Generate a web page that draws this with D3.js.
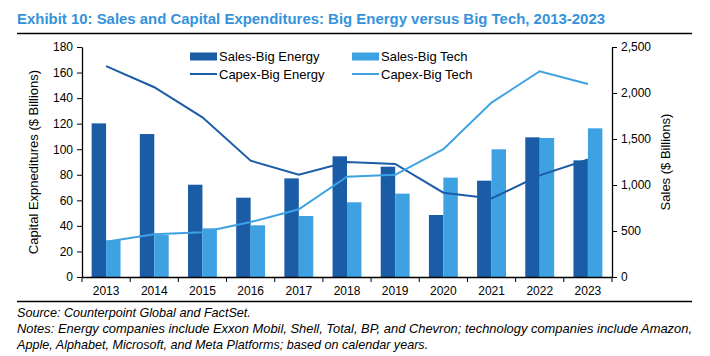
<!DOCTYPE html>
<html>
<head>
<meta charset="utf-8">
<script src="https://cdn.jsdelivr.net/npm/d3@7"></script>
<style>
  html, body { margin: 0; padding: 0; background: #fff; }
  svg { display: block; }
  text { font-family: "Liberation Sans", Arial, sans-serif; }
</style>
</head>
<body>
<script>
// ---- data ----
const years = ["2013","2014","2015","2016","2017","2018","2019","2020","2021","2022","2023"];
const salesEnergy = [1670, 1554, 1003, 862, 1072, 1312, 1199, 674, 1047, 1518, 1268]; // right axis
const salesTech   = [399, 456, 529, 562, 663, 812, 906, 1080, 1388, 1511, 1616];      // right axis
const capexEnergy = [165, 148.5, 125, 91, 80, 90, 88.5, 66, 61.5, 79.5, 92];          // left axis
const capexTech   = [27.5, 33.5, 35, 43, 53, 78.5, 80, 100, 136.5, 161, 151];         // left axis
const leftTicks  = [0, 20, 40, 60, 80, 100, 120, 140, 160, 180];
const rightTicks = [0, 500, 1000, 1500, 2000, 2500];
const seriesNames = ["Sales-Big Energy", "Sales-Big Tech", "Capex-Big Energy", "Capex-Big Tech"];

const W = 710, H = 356;
const dark = "#1b5ca7", light = "#3ea2e2", titleColor = "#3592da";
const plot = { left: 82, right: 612, top: 47, bottom: 277 };

const svg = d3.select("body").append("svg").attr("width", W).attr("height", H);

// title
svg.append("text")
  .attr("x", 17).attr("y", 24)
  .attr("fill", titleColor)
  .style("font-family", "'Liberation Sans Narrow','Arial Narrow','Liberation Sans',sans-serif")
  .style("font-weight", "bold").style("font-size", "15px")
  .attr("textLength", 588).attr("lengthAdjust", "spacingAndGlyphs")
  .text("Exhibit 10: Sales and Capital Expenditures: Big Energy versus Big Tech, 2013-2023");
svg.append("line").attr("x1", 17).attr("x2", 692).attr("y1", 33.5).attr("y2", 33.5)
  .attr("stroke", "#000").attr("stroke-width", 1.3);

// scales
const x = d3.scaleBand().domain(years).range([plot.left, plot.right]).paddingInner(0).paddingOuter(0);
const sub = d3.scaleBand().domain(["e", "t"]).range([0, x.bandwidth() * 0.6]);
const subOff = x.bandwidth() * 0.2;
const yL = d3.scaleLinear().domain([0, 180]).range([plot.bottom, plot.top]);
const yR = d3.scaleLinear().domain([0, 2500]).range([plot.bottom, plot.top]);

// bars
const g = svg.append("g");
g.selectAll("rect.e").data(years).join("rect").attr("class", "e")
  .attr("x", d => x(d) + subOff + sub("e"))
  .attr("width", sub.bandwidth())
  .attr("y", (d, i) => yR(salesEnergy[i]))
  .attr("height", (d, i) => yR(0) - yR(salesEnergy[i]))
  .attr("fill", dark);
g.selectAll("rect.t").data(years).join("rect").attr("class", "t")
  .attr("x", d => x(d) + subOff + sub("t"))
  .attr("width", sub.bandwidth())
  .attr("y", (d, i) => yR(salesTech[i]))
  .attr("height", (d, i) => yR(0) - yR(salesTech[i]))
  .attr("fill", light);

// lines
const cx = d => x(d) + x.bandwidth() / 2;
const lineE = d3.line().x((d, i) => cx(years[i])).y(d => yL(d));
svg.append("path").datum(capexEnergy).attr("d", lineE)
  .attr("fill", "none").attr("stroke", dark).attr("stroke-width", 2);
svg.append("path").datum(capexTech).attr("d", lineE)
  .attr("fill", "none").attr("stroke", light).attr("stroke-width", 2);

// axes
const axL = svg.append("g").attr("transform", `translate(${plot.left},0)`)
  .call(d3.axisLeft(yL).tickValues(leftTicks).tickSize(5).tickSizeOuter(0).tickPadding(4));
const axR = svg.append("g").attr("transform", `translate(${plot.right},0)`)
  .call(d3.axisRight(yR).tickValues(rightTicks).tickFormat(d3.format(",")).tickSize(5).tickSizeOuter(0).tickPadding(4));
const axB = svg.append("g").attr("transform", `translate(0,${plot.bottom})`)
  .call(d3.axisBottom(x).tickSize(0).tickSizeOuter(0).tickPadding(9));
[axL, axR, axB].forEach(a => {
  a.selectAll("text").style("font-size", "12px").style("font-family", "'Liberation Sans',Arial,sans-serif").attr("fill", "#000");
  a.selectAll("line").attr("stroke", "#000");
  a.select(".domain").attr("stroke", "#000").attr("stroke-width", 1.3);
});
// boundary ticks on category axis
const bounds = years.map(d => x(d)).concat([x(years[years.length - 1]) + x.bandwidth()]);
svg.append("g").selectAll("line").data(bounds).join("line")
  .attr("x1", d => d).attr("x2", d => d)
  .attr("y1", plot.bottom).attr("y2", plot.bottom + 5)
  .attr("stroke", "#000");

// axis titles
svg.append("text").attr("transform", `translate(38,${(plot.top + plot.bottom) / 2}) rotate(-90)`)
  .attr("text-anchor", "middle").style("font-size", "13px")
  .text("Capital Expneditures ($ Billions)");
svg.append("text").attr("transform", `translate(670,${(plot.top + plot.bottom) / 2}) rotate(-90)`)
  .attr("text-anchor", "middle").style("font-size", "13px")
  .text("Sales ($ Billions)");

// legend
const legend = svg.append("g");
const legItems = [
  { name: seriesNames[0], type: "bar", color: dark, x: 190, y: 56.5 },
  { name: seriesNames[1], type: "bar", color: light, x: 352, y: 56.5 },
  { name: seriesNames[2], type: "line", color: dark, x: 190, y: 74 },
  { name: seriesNames[3], type: "line", color: light, x: 352, y: 74 }
];
legItems.forEach(it => {
  if (it.type === "bar") {
    legend.append("rect").attr("x", it.x).attr("y", it.y - 4).attr("width", 27).attr("height", 8).attr("fill", it.color);
  } else {
    legend.append("line").attr("x1", it.x).attr("x2", it.x + 27).attr("y1", it.y).attr("y2", it.y)
      .attr("stroke", it.color).attr("stroke-width", 2);
  }
  legend.append("text").attr("x", it.x + 29).attr("y", it.y).attr("dy", "0.35em")
    .style("font-size", "13px").text(it.name);
});

// footer
svg.append("line").attr("x1", 17).attr("x2", 692).attr("y1", 301.5).attr("y2", 301.5)
  .attr("stroke", "#000").attr("stroke-width", 1.3);
const foot = svg.append("g").style("font-style", "italic").style("font-size", "12.6px");
foot.append("text").attr("x", 17).attr("y", 317).text("Source: Counterpoint Global and FactSet.");
foot.append("text").attr("x", 17).attr("y", 333)
  .attr("textLength", 675).attr("lengthAdjust", "spacingAndGlyphs")
  .text("Notes: Energy companies include Exxon Mobil, Shell, Total, BP, and Chevron; technology companies include Amazon,");
foot.append("text").attr("x", 17).attr("y", 349)
  .text("Apple, Alphabet, Microsoft, and Meta Platforms; based on calendar years.");
</script>
</body>
</html>
